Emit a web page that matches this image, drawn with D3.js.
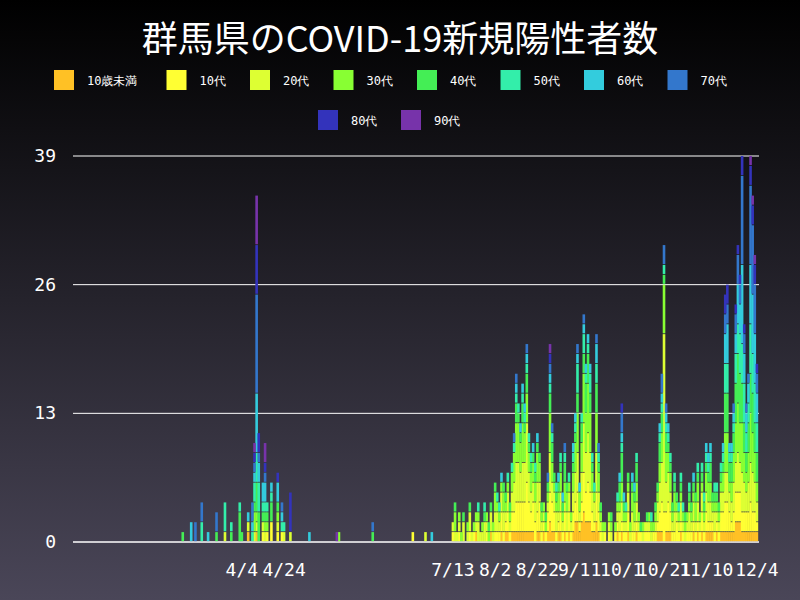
<!DOCTYPE html>
<html><head><meta charset="utf-8">
<script src="https://cdn.jsdelivr.net/npm/d3@7"></script>
<style>
body{margin:0;background:#000;}
svg{display:block;}
</style></head>
<body>
<svg id="chart" width="800" height="600"></svg>
<script>
// age groups, colours and axis ticks
const ageGroups = ['10歳未満','10代','20代','30代','40代','50代','60代','70代','80代','90代'];
const ageColors = ['#ffc125','#ffff33','#ddff33','#88ff33','#44ee55','#33eeaa','#33ccdd','#3377cc','#3333bb','#7733aa'];
const yTicks = [0, 13, 26, 39];
const xTickLabels = ['4/4','4/24','7/13','8/2','8/22','9/11','10/1','10/21','11/10','12/4'];

// daily cases, one base36 digit per age group (same order as ageGroups)
const dailyCases = [
  ['3/7','0000100000'],['3/11','0000002000'],['3/13','0000000200'],['3/16','0000020200'],
  ['3/19','0000001000'],['3/23','0000100200'],['3/27','0010030000'],['3/30','0000110000'],
  ['4/3','0000310000'],['4/4','0000100000'],['4/7','1010001000'],['4/9','0000011200'],
  ['4/10','0012121111'],['4/11','1011336a55'],['4/12','0000332120'],['4/14','0110112000'],
  ['4/15','0011112112'],['4/16','0101110000'],['4/18','0200211000'],['4/21','0111102010'],
  ['4/23','0100011100'],['4/24','0010010000'],['4/27','0010000040'],['5/6','0000001000'],
  ['5/19','0000000001'],['5/20','0001000000'],['6/5','0000100100'],['6/24','0100000000'],
  ['6/30','0010000000'],['7/3','0000001000'],
  ['7/13','0110000000'],['7/14','0012100000'],['7/15','0010000000'],['7/16','0111000000'],
  ['7/17','0001000000'],['7/18','0020100000'],['7/20','0011000000'],['7/21','0120100000'],
  ['7/22','0010000000'],['7/23','0101000000'],['7/24','1011000000'],['7/25','0021010000'],
  ['7/26','0010000000'],['7/27','0011000000'],['7/28','0020110000'],['7/29','0111000000'],
  ['7/30','0001100000'],['7/31','1020100000'],['8/1','0011000000'],['8/2','0122100000'],
  ['8/3','0121010000'],['8/4','0111010000'],['8/5','1221001000'],['8/6','0122100000'],
  ['8/7','1111100000'],['8/8','1221010000'],['8/9','0111100000'],['8/10','1222010000'],
  ['8/11','1233010100'],['8/12','1344211100'],['8/13','1344110000'],['8/14','1333101000'],
  ['8/15','1344211000'],['8/16','1343111000'],['8/17','1563211100'],['8/18','1332110000'],
  ['8/19','1222110000'],['8/20','1322101000'],['8/21','0222110000'],['8/22','1233101000'],
  ['8/23','1322100000'],['8/24','0111100000'],['8/25','1111000000'],['8/26','0101100000'],
  ['8/27','1211100100'],['8/28','2344211111'],['8/29','1322210100'],['8/30','1221100000'],
  ['8/31','0121110000'],['9/1','1112101000'],['9/2','1222110000'],['9/3','0111101000'],
  ['9/4','1212210100'],['9/5','0122100000'],['9/6','1221010000'],['9/7','0111000000'],
  ['9/8','1222111000'],['9/9','2233111000'],['9/10','2344231100'],['9/11','1112001000'],
  ['9/12','2233210000'],['9/13','3455221100'],['9/14','2344311000'],['9/15','2455311000'],
  ['9/16','2344221000'],['9/17','1222110000'],['9/18','1121010000'],['9/19','2344322100'],
  ['9/20','1222110100'],['9/21','0111100000'],['9/22','0011000000'],['9/23','0101000000'],
  ['9/25','0111000000'],['9/26','0011100000'],['9/28','0101000000'],['9/29','1111010000'],
  ['9/30','0121201000'],['10/1','1122311210'],['10/2','0111101000'],['10/3','0111010000'],
  ['10/4','1221100000'],['10/5','0011000000'],['10/6','0122101000'],['10/7','0112101000'],
  ['10/8','1122210000'],['10/9','0111000000'],['10/10','0100100000'],['10/11','0011000000'],
  ['10/12','0110000000'],['10/13','0110100000'],['10/14','0111000000'],['10/15','0011010000'],
  ['10/16','0101000000'],['10/17','0111100000'],['10/18','1121100000'],['10/19','1232211000'],
  ['10/20','1343211200'],['10/21','03i5110200'],['10/22','1233211100'],['10/23','1332111000'],
  ['10/24','1222110000'],['10/25','0111100000'],['10/26','0122110000'],['10/27','0211100000'],
  ['10/28','0111010000'],['10/29','1121110000'],['10/30','0111010000'],['10/31','0011100000'],
  ['11/1','0111000000'],['11/2','0121110000'],['11/3','0111100000'],['11/4','1121101000'],
  ['11/5','0112100000'],['11/6','1122110000'],['11/7','0111000000'],['11/8','1221110000'],
  ['11/9','0111110000'],['11/10','1222111000'],['11/11','1122111000'],['11/12','1122211000'],
  ['11/13','1111100000'],['11/14','0121110000'],['11/15','1111110000'],['11/16','0111100000'],
  ['11/17','1221110000'],['11/18','1222111000'],['11/19','1334433220'],['11/20','1334434220'],
  ['11/21','1221211000'],['11/22','1122211000'],['11/23','1233211100'],['11/24','2334432210'],
  ['11/25','2345534310'],['11/26','2334543210'],['11/27','1245448920'],['11/28','1233343210'],
  ['11/29','1222222100'],['11/30','1233322100'],['12/1','1345456821'],['12/2','1244446721'],
  ['12/3','1233345521'],['12/4','1122333210']
];

const svg = d3.select('#chart');
const W = 800, H = 600;
const margin = {left: 73, right: 41, top: 156, bottom: 58};
const parseDay = s => { const [m, d] = s.split('/').map(Number); return new Date(2020, m - 1, d); };

// background gradient
const defs = svg.append('defs');
const grad = defs.append('linearGradient').attr('id', 'bg').attr('x1', 0).attr('x2', 0).attr('y1', 0).attr('y2', 1);
grad.append('stop').attr('offset', '0%').attr('stop-color', '#000000');
grad.append('stop').attr('offset', '100%').attr('stop-color', '#4a4658');
svg.append('rect').attr('width', W).attr('height', H).attr('fill', 'url(#bg)');

const x = d3.scaleTime()
    .domain([new Date(2020, 0, 15), new Date(2020, 11, 5)])
    .range([margin.left, W - margin.right]);
const y = d3.scaleLinear().domain([0, 39]).range([H - margin.bottom, margin.top]);

// grid lines
svg.append('g').selectAll('line').data(yTicks).join('line')
    .attr('x1', margin.left).attr('x2', W - margin.right)
    .attr('y1', d => y(d)).attr('y2', d => y(d))
    .attr('stroke', '#fff').attr('stroke-width', d => d === 0 ? 1.5 : 1);

// stacked bars
const rows = dailyCases.map(([day, code]) => {
    const row = {date: parseDay(day)};
    ageGroups.forEach((g, i) => row[g] = parseInt(code[i], 36));
    return row;
});
const stacked = d3.stack().keys(ageGroups)(rows);
const barW = 2.6;
svg.append('g').selectAll('g').data(stacked).join('g')
    .attr('fill', (d, i) => ageColors[i])
    .selectAll('rect').data(d => d.filter(s => s[1] > s[0])).join('rect')
    .attr('x', d => x(d.data.date) - barW / 2)
    .attr('width', barW)
    .attr('y', d => y(d[1]))
    .attr('height', d => Math.max(0.5, y(d[0]) - y(d[1]) - 0.8));

// axes
const axisFont = '"DejaVu Sans Mono", monospace';
svg.append('g').selectAll('text').data(yTicks).join('text')
    .attr('x', 56).attr('y', d => y(d) + 6)
    .attr('text-anchor', 'end').attr('fill', '#fff')
    .attr('font-family', axisFont).attr('font-size', 18)
    .text(d => d);

svg.append('g').selectAll('text').data(xTickLabels).join('text')
    .attr('x', d => x(parseDay(d))).attr('y', 576)
    .attr('text-anchor', 'middle').attr('fill', '#fff')
    .attr('font-family', axisFont).attr('font-size', 18)
    .text(d => d);

// title
svg.append('text').attr('x', W / 2).attr('y', 52)
    .attr('text-anchor', 'middle').attr('fill', '#fff')
    .attr('font-family', '"Noto Sans CJK JP", sans-serif').attr('font-size', 36)
    .text('群馬県のCOVID-19新規陽性者数');

// legend: 8 on first row, 2 centred on second
const legendPos = ageGroups.map((g, i) => i < 8
    ? {x: i === 0 ? 54 : 83 + i * 83.5 + (i === 1 ? 0 : 0), y: 70}
    : {x: 318 + (i - 8) * 83, y: 110});
legendPos[0].x = 54;
const legend = svg.append('g').selectAll('g').data(ageGroups).join('g')
    .attr('transform', (d, i) => `translate(${legendPos[i].x},${legendPos[i].y})`);
legend.append('rect').attr('width', 20).attr('height', 20).attr('fill', (d, i) => ageColors[i]);
legend.append('text').attr('x', 33).attr('y', 15)
    .attr('fill', '#fff').attr('font-family', axisFont).attr('font-size', 12)
    .text(d => d);
</script>
</body></html>
